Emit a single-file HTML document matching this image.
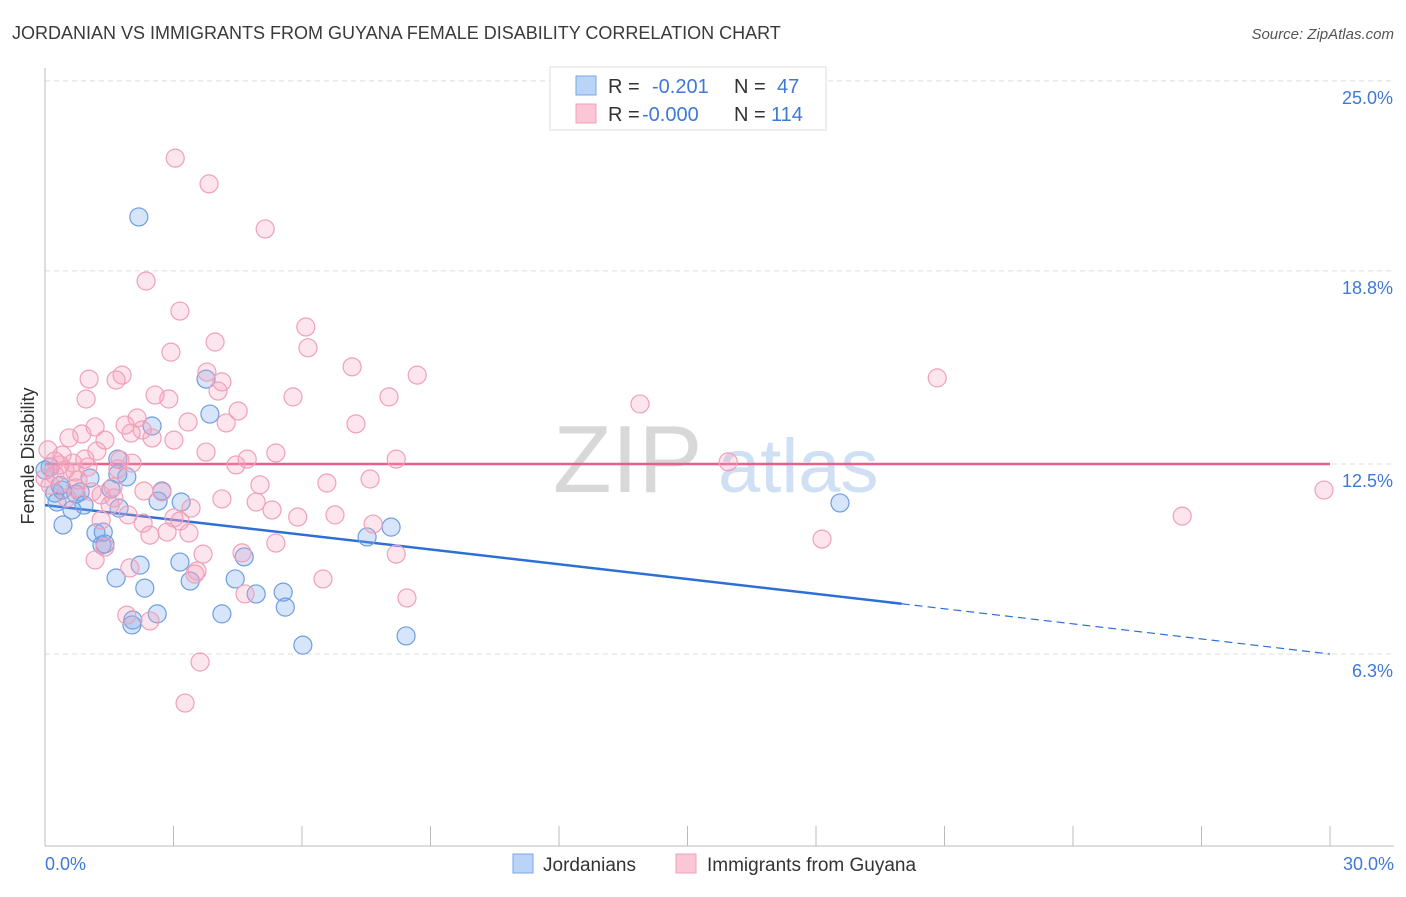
<!DOCTYPE html>
<html><head><meta charset="utf-8"><style>
body{margin:0;background:#fff;font-family:"Liberation Sans",sans-serif;}
svg text{font-family:"Liberation Sans",sans-serif;}
</style></head><body>
<svg id="chart" width="1406" height="892" xmlns="http://www.w3.org/2000/svg">
<text x="12" y="39" font-size="18" fill="#3a3a3a">JORDANIAN VS IMMIGRANTS FROM GUYANA FEMALE DISABILITY CORRELATION CHART</text>
<text x="1394" y="39" font-size="15" font-style="italic" fill="#555" text-anchor="end">Source: ZipAtlas.com</text>
<g>
<text x="553" y="492" font-size="96" font-family="Liberation Serif" fill="#d8d8d8">ZIP</text>
<text x="718" y="492" font-size="76" fill="#cfe0f4">atlas</text>
</g>
<g id="grid"></g>
<g id="axes"></g>
<g id="trend"></g>
<g id="pts"></g>
<g>
<rect x="550" y="67" width="276" height="63" fill="#fff" stroke="#ddd"/>
<rect x="576" y="76" width="20" height="19" fill="#b9d4f6" stroke="#79a6e6"/>
<rect x="576" y="104" width="20" height="19" fill="#fbc6d6" stroke="#f0a0b8"/>
<text x="608" y="93" font-size="20" fill="#333">R = </text><text x="652" y="93" font-size="20" fill="#3f78d6">-0.201</text>
<text x="734" y="93" font-size="20" fill="#333">N = </text><text x="777" y="93" font-size="20" fill="#3f78d6">47</text>
<text x="608" y="121" font-size="20" fill="#333">R = </text><text x="642" y="121" font-size="20" fill="#3f78d6">-0.000</text>
<text x="734" y="121" font-size="20" fill="#333">N = </text><text x="771" y="121" font-size="20" fill="#3f78d6">114</text>
</g>
<g>
<rect x="513" y="854" width="20" height="19" fill="#b9d4f6" stroke="#79a6e6"/>
<text x="543" y="871" font-size="19" fill="#333">Jordanians</text>
<rect x="676" y="854" width="20" height="19" fill="#fbc6d6" stroke="#f0a0b8"/>
<text x="707" y="871" font-size="19" fill="#333">Immigrants from Guyana</text>
</g>
<text transform="translate(34,456) rotate(-90)" font-size="18" fill="#333" text-anchor="middle">Female Disability</text>
</svg>
<script>
const yTicks=[25,18.8,12.5,6.3];
const yTickLabels=["25.0%","18.8%","12.5%","6.3%"];
const xTicks=[0,3,6,9,12,15,18,21,24,27,30];
const blueX=[2.19,3.76,3.85,2.50,1.70,1.91,1.70,1.05,0.23,0.40,0.82,0.72,1.54,2.73,3.18,2.64,0.28,0.91,0.63,0.42,1.19,1.33,1.40,1.36,1.73,2.22,3.15,1.66,2.33,3.39,4.44,4.65,4.93,5.56,5.61,4.13,2.62,2.05,2.03,6.02,8.43,7.52,8.08,18.56,0.12,0.0,0.35];
const blueY=[20.56,15.27,14.13,13.74,12.66,12.08,12.17,12.04,11.55,11.65,11.59,11.52,11.68,11.62,11.26,11.29,11.26,11.16,11.00,10.51,10.25,9.86,9.89,10.28,11.06,9.20,9.30,8.78,8.45,8.68,8.75,9.47,8.26,8.32,7.83,7.61,7.61,7.41,7.25,6.59,6.89,10.12,10.44,11.23,12.40,12.3,11.8];
const pinkX=[3.04,3.83,5.14,2.36,3.15,6.09,3.97,6.14,2.94,7.17,8.69,20.83,1.03,1.80,1.66,3.78,4.13,4.04,2.57,2.89,0.96,5.79,8.03,13.89,4.51,2.15,1.87,2.27,3.34,4.23,7.26,1.17,2.01,0.56,0.86,1.40,3.01,2.50,3.76,5.39,1.21,0.07,0.40,0.93,4.72,4.46,8.20,15.95,0.65,0.23,1.00,7.59,1.70,0.70,0.23,5.02,6.58,0.72,1.59,2.31,2.73,1.31,1.61,4.13,4.93,29.86,3.41,5.30,5.90,6.77,1.94,3.01,3.15,1.31,2.29,7.66,26.55,2.45,2.85,3.36,5.39,18.14,1.40,1.17,3.69,4.60,8.20,1.98,3.55,3.50,6.49,4.67,8.45,1.91,2.45,3.62,3.27,0.35,0.47,0.12,0,0.77,1.10,0.51,2.03,1.75,1.52];
const pinkY=[22.48,21.64,20.17,18.47,17.49,16.97,16.48,16.29,16.15,15.67,15.40,15.31,15.27,15.40,15.24,15.50,15.18,14.88,14.75,14.62,14.62,14.69,14.69,14.46,14.23,14.00,13.77,13.61,13.87,13.84,13.81,13.71,13.51,13.35,13.48,13.28,13.28,13.35,12.89,12.86,12.92,12.96,12.79,12.66,12.66,12.47,12.66,12.57,12.53,12.60,12.40,12.01,12.34,12.24,12.14,11.82,11.88,11.72,11.75,11.62,11.59,11.49,11.39,11.36,11.26,11.65,11.06,11.00,10.77,10.84,10.84,10.74,10.64,10.67,10.57,10.54,10.80,10.18,10.28,10.25,9.92,10.05,9.79,9.37,9.56,9.60,9.56,9.11,9.01,8.91,8.75,8.26,8.13,7.57,7.38,6.04,4.70,12.47,12.30,11.81,12.04,11.98,11.59,11.39,12.53,12.63,11.16];
const blueTrend=[[0,11.16],[20,7.94],[30,6.3]];
const pinkTrend=[[0,12.5],[30,12.5]];
const NS="http://www.w3.org/2000/svg";
const xs=v=>45+v/30*1285;
const ys=v=>464-(v-12.5)*30.65;
function mk(tag,attrs,parent){const e=document.createElementNS(NS,tag);for(const k in attrs)e.setAttribute(k,attrs[k]);document.getElementById(parent).appendChild(e);return e;}
yTicks.forEach((t,i)=>{
 const g=mk('line',{x1:45,x2:1394,y1:ys(t),y2:ys(t),stroke:'#ddd','stroke-dasharray':'5,4'},'grid');
 
 
 const l=mk('text',{x:1393,y:ys(t)+23,'font-size':18,fill:'#3f78d6','text-anchor':'end'},'grid');
 l.textContent=yTickLabels[i];
 
 
});
const ax=mk('line',{x1:45,x2:45,y1:68,y2:846,stroke:'#bbb'},'axes');


const bx=mk('line',{x1:45,x2:1394,y1:846,y2:846,stroke:'#bbb'},'axes');


xTicks.forEach(t=>{
 const tk=mk('line',{x1:xs(t),x2:xs(t),y1:826,y2:846,stroke:'#bbb'},'axes');
 
 
});
const x0=mk('text',{x:45,y:870,'font-size':18,fill:'#3f78d6'},'axes');x0.textContent='0.0%';


const x1=mk('text',{x:1394,y:870,'font-size':18,fill:'#3f78d6','text-anchor':'end'},'axes');x1.textContent='30.0%';


blueX.forEach((v,i)=>{
 const c=mk('circle',{cx:xs(v),cy:ys(blueY[i]),r:9,fill:'rgba(120,170,235,0.3)',stroke:'#6d9ee0','stroke-width':1.2},'pts');
 
 
});
pinkX.forEach((v,i)=>{
 const c=mk('circle',{cx:xs(v),cy:ys(pinkY[i]),r:9,fill:'rgba(245,160,190,0.28)',stroke:'#f0a0b8','stroke-width':1.2},'pts');
 
 
});
const b1=mk('line',{x1:xs(blueTrend[0][0]),y1:ys(blueTrend[0][1]),x2:xs(blueTrend[1][0]),y2:ys(blueTrend[1][1]),stroke:'#2e6fd6','stroke-width':2.5},'trend');


const b2=mk('line',{x1:xs(blueTrend[1][0]),y1:ys(blueTrend[1][1]),x2:xs(blueTrend[2][0]),y2:ys(blueTrend[2][1]),stroke:'#2e6fd6','stroke-width':1.2,'stroke-dasharray':'8,5'},'trend');


const p1=mk('line',{x1:xs(pinkTrend[0][0]),y1:ys(pinkTrend[0][1]),x2:xs(pinkTrend[1][0]),y2:ys(pinkTrend[1][1]),stroke:'#e8608a','stroke-width':2.5},'trend');


</script>
</body></html>
